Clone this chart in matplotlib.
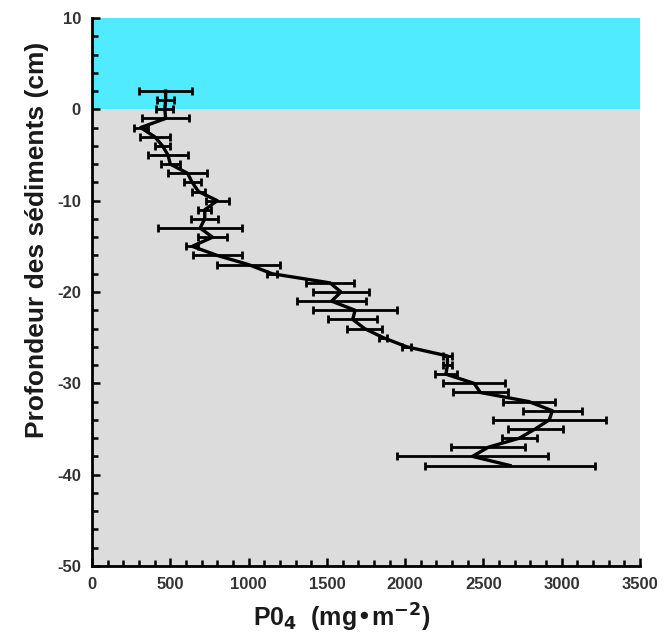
import matplotlib.pyplot as plt
from matplotlib.ticker import MultipleLocator

# depth (cm) and PO4 (mg m-2) with +/- error
depth = [2, 1, 0, -1, -2, -3, -4, -5, -6, -7, -8, -9, -10, -11, -12, -13,
         -14, -15, -16, -17, -18, -19, -20, -21, -22, -23, -24, -25, -26,
         -27, -28, -29, -30, -31, -32, -33, -34, -35, -36, -37, -38, -39]
po4 = [470, 470, 465, 470, 310, 400, 450, 485, 500, 610, 640, 680, 800, 720,
       720, 690, 770, 640, 800, 1000, 1150, 1520, 1590, 1530, 1680, 1665,
       1740, 1860, 2010, 2270, 2270, 2260, 2440, 2480, 2790, 2940, 2920,
       2830, 2730, 2530, 2430, 2670]
po4_err = [170, 55, 55, 150, 45, 95, 50, 125, 60, 125, 55, 40, 75, 40, 85,
           270, 95, 40, 155, 200, 30, 155, 180, 220, 270, 155, 110, 25, 30,
           30, 30, 70, 200, 175, 165, 190, 360, 175, 110, 235, 480, 545]

x_ticks = [0, 500, 1000, 1500, 2000, 2500, 3000, 3500]
y_ticks = [-50, -40, -30, -20, -10, 0, 10]

plt.rcParams['font.family'] = ['Liberation Sans', 'DejaVu Sans']
plt.rcParams['axes.unicode_minus'] = False
plt.rcParams['mathtext.default'] = 'bf'

fig = plt.figure(figsize=(6.64, 6.4), dpi=100)
ax = fig.add_axes([0.1386, 0.1156, 0.8253, 0.8563])

ax.axhspan(0, 10, color='#50ebff', zorder=0, lw=0)
ax.axhspan(-50, 0, color='#dcdcdc', zorder=0, lw=0)

ax.errorbar(po4, depth, xerr=po4_err, fmt='-', color='black', lw=2.4,
            elinewidth=2, capsize=3, capthick=2, zorder=3)

ax.set_xlim(0, 3500)
ax.set_ylim(-50, 10)
ax.set_xticks(x_ticks)
ax.set_yticks(y_ticks)
ax.xaxis.set_minor_locator(MultipleLocator(100))
ax.yaxis.set_minor_locator(MultipleLocator(2))

for s in ['top', 'right']:
    ax.spines[s].set_visible(False)
for s in ['left', 'bottom']:
    ax.spines[s].set_linewidth(2)
    ax.spines[s].set_zorder(4)

ax.tick_params(which='major', direction='in', length=6, width=1.8,
               labelsize=12, colors='black', labelcolor='#333333', pad=8)
ax.tick_params(which='minor', direction='in', length=4, width=1.8)
for lab in ax.get_xticklabels() + ax.get_yticklabels():
    lab.set_fontweight('bold')

fig.text(0.055, 0.625, 'Profondeur des sédiments (cm)', rotation=90,
         ha='center', va='center', fontsize=19, fontweight='bold',
         color='#1a1a1a')
fig.text(0.515, 0.035, r'P0$_4$  (mg•m$^{-2}$)', ha='center', va='center',
         fontsize=18, fontweight='bold', color='#1a1a1a')

fig.savefig('out.png', dpi=100, facecolor='white')
